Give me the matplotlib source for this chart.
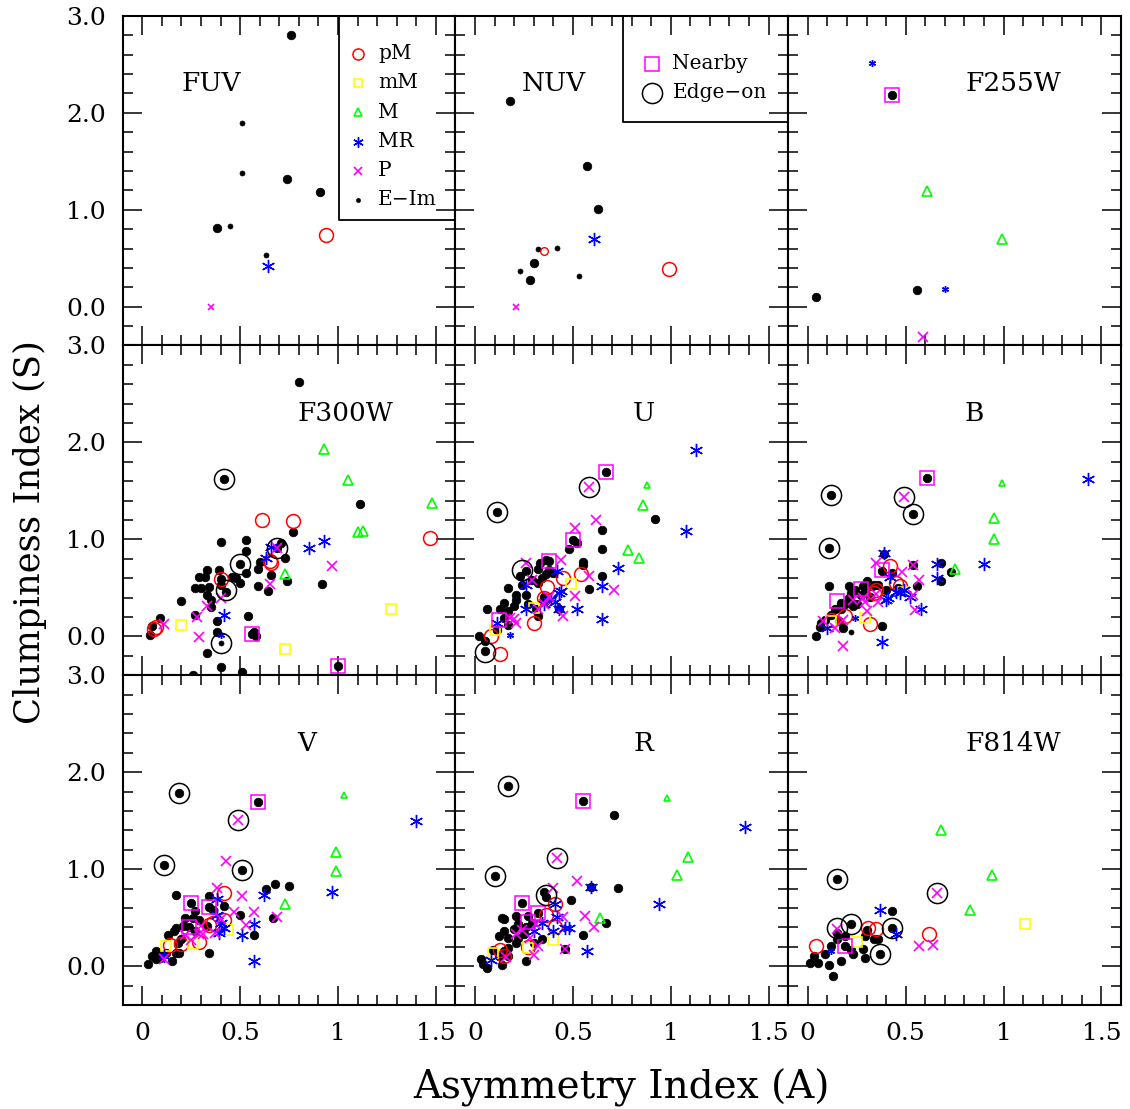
import matplotlib
matplotlib.use("Agg")
import matplotlib.pyplot as plt
from matplotlib.ticker import MultipleLocator, FuncFormatter

plt.rcParams['font.family'] = ['DejaVu Serif']

PANELS = ["FUV", "NUV", "F255W", "F300W", "U", "B", "V", "R", "F814W"]

# ---------------- data: (Asymmetry A, Clumpiness S) ----------------
FUV = {
    "EIm": [(0.76, 2.80), (0.74, 1.32), (0.91, 1.18), (0.38, 0.81)],
    "EIm_s": [(0.51, 1.89), (0.51, 1.38), (0.45, 0.83), (0.63, 0.53)],
    "pM": [(0.94, 0.74)],
    "MR": [(0.64, 0.42)],
    "P_s": [(0.35, 0.00)],
}
NUV = {
    "EIm": [(0.18, 2.12), (0.57, 1.45), (0.63, 1.01), (0.30, 0.45), (0.28, 0.28)],
    "EIm_s": [(0.32, 0.60), (0.42, 0.61), (0.23, 0.37), (0.53, 0.32)],
    "pM": [(0.99, 0.39)],
    "pM_s": [(0.35, 0.57)],
    "MR": [(0.61, 0.70)],
    "P_s": [(0.21, 0.00)],
}
F255W = {
    "EIm": [(0.43, 2.18), (0.04, 0.10), (0.56, 0.17)],
    "M": [(0.61, 1.19), (0.99, 0.70)],
    "MR_s": [(0.33, 2.51), (0.70, 0.18)],
    "P": [(0.59, -0.31)],
    "nearby": [(0.43, 2.18)],
}
F300W = {
    "EIm": [(0.80, 2.62), (1.11, 1.37), (0.77, 1.08), (0.42, 1.62), (0.69, 0.91),
            (0.71, 0.96), (0.73, 0.81), (0.40, 0.97), (0.53, 0.99), (0.53, 0.88),
            (0.50, 0.75), (0.59, 0.70), (0.60, 0.77), (0.66, 0.63), (0.64, 0.47),
            (0.59, 0.52), (0.74, 0.57), (0.92, 0.54), (0.46, 0.61), (0.48, 0.60),
            (0.50, 0.55), (0.53, 0.65), (0.33, 0.69), (0.39, 0.68), (0.29, 0.61),
            (0.32, 0.61), (0.27, 0.50), (0.30, 0.50), (0.34, 0.51), (0.33, 0.43),
            (0.35, 0.38), (0.35, 0.30), (0.20, 0.37), (0.27, 0.22), (0.38, 0.16),
            (0.38, 0.05), (0.33, -0.17), (0.40, -0.32), (0.26, -0.40), (0.51, -0.37),
            (0.54, 0.21), (0.57, 0.05), (0.58, 0.00), (0.09, 0.19), (0.04, 0.01),
            (0.05, 0.11), (0.40, 0.59), (0.40, 0.53), (0.43, 0.46), (0.56, 0.03),
            (1.00, -0.30)],
    "EIm_s": [(0.40, -0.07)],
    "pM": [(0.61, 1.20), (0.77, 1.19), (1.47, 1.01), (0.65, 0.78), (0.66, 0.76),
           (0.40, 0.59), (0.06, 0.08), (0.07, 0.10)],
    "mM": [(0.20, 0.12), (0.73, -0.13), (1.27, 0.28)],
    "M": [(0.93, 1.93), (1.05, 1.61), (1.48, 1.38), (1.10, 1.08), (1.13, 1.09),
          (0.73, 0.64)],
    "MR": [(0.93, 0.98), (0.85, 0.91), (0.66, 0.92), (0.63, 0.81), (0.42, 0.22)],
    "MR_s": [(0.40, 0.01)],
    "P": [(0.97, 0.73), (0.69, 0.91), (0.65, 0.54), (0.40, 0.40), (0.33, 0.31),
          (0.28, 0.20), (0.29, -0.01), (0.11, 0.13)],
    "nearby": [(0.56, 0.03), (1.00, -0.30)],
    "edgeon": [(0.42, 1.62), (0.69, 0.91), (0.50, 0.75), (0.43, 0.48), (0.40, -0.07)],
}
U = {
    "EIm": [(0.67, 1.70), (0.11, 1.28), (0.92, 1.21), (0.65, 1.10), (0.65, 0.90),
            (0.50, 0.99), (0.48, 0.90), (0.52, 0.96), (0.38, 0.78), (0.36, 0.79),
            (0.55, 0.77), (0.55, 0.74), (0.65, 0.62), (0.58, 0.49), (0.05, -0.15),
            (0.33, 0.76), (0.32, 0.70), (0.36, 0.64), (0.38, 0.69), (0.34, 0.60),
            (0.40, 0.65), (0.29, 0.58), (0.26, 0.67), (0.23, 0.62), (0.32, 0.55),
            (0.24, 0.53), (0.26, 0.43), (0.21, 0.43), (0.17, 0.50), (0.21, 0.38),
            (0.15, 0.34), (0.20, 0.31), (0.17, 0.26), (0.13, 0.28), (0.06, 0.28),
            (0.15, 0.19), (0.17, 0.12), (0.11, 0.07), (0.02, 0.00), (0.05, -0.05),
            (0.32, 0.21), (0.31, 0.28), (0.27, 0.33), (0.35, 0.41), (0.43, 0.28)],
    "pM": [(0.54, 0.64), (0.45, 0.60), (0.37, 0.51), (0.35, 0.40), (0.30, 0.14),
           (0.08, 0.00), (0.13, -0.18)],
    "mM": [(0.49, 0.54), (0.30, 0.29), (0.10, 0.07)],
    "M": [(0.86, 1.36), (0.78, 0.89), (0.84, 0.81)],
    "M_s": [(0.88, 1.56)],
    "MR": [(1.13, 1.92), (1.08, 1.09), (0.73, 0.71), (0.42, 0.67), (0.65, 0.52),
           (0.44, 0.47), (0.43, 0.45), (0.26, 0.53), (0.41, 0.36), (0.39, 0.39),
           (0.52, 0.28), (0.26, 0.28), (0.43, 0.28), (0.65, 0.18), (0.11, 0.14),
           (0.35, 0.33)],
    "MR_s": [(0.18, 0.02)],
    "P": [(0.58, 1.54), (0.62, 1.20), (0.51, 1.12), (0.44, 0.79), (0.26, 0.76),
          (0.58, 0.62), (0.29, 0.58), (0.71, 0.48), (0.51, 0.42), (0.38, 0.41),
          (0.35, 0.33), (0.32, 0.28), (0.45, 0.21), (0.20, 0.18), (0.21, 0.14),
          (0.18, 0.19)],
    "nearby": [(0.67, 1.70), (0.50, 0.99), (0.38, 0.78), (0.12, 0.17)],
    "edgeon": [(0.11, 1.28), (0.58, 1.54), (0.24, 0.68), (0.05, -0.16)],
}
B = {
    "EIm": [(0.61, 1.63), (0.12, 1.46), (0.54, 1.26), (0.11, 0.91), (0.39, 0.85),
            (0.73, 0.66), (0.68, 0.76), (0.68, 0.57), (0.54, 0.74), (0.56, 0.52),
            (0.38, 0.11), (0.04, 0.00), (0.11, 0.52), (0.38, 0.67), (0.30, 0.57),
            (0.28, 0.52), (0.24, 0.48), (0.22, 0.45), (0.21, 0.40), (0.19, 0.33),
            (0.17, 0.28), (0.23, 0.31), (0.25, 0.33), (0.27, 0.43), (0.32, 0.41),
            (0.33, 0.52), (0.29, 0.46), (0.34, 0.53), (0.36, 0.53), (0.21, 0.52),
            (0.22, 0.36), (0.14, 0.28), (0.12, 0.22), (0.09, 0.17), (0.07, 0.14),
            (0.06, 0.10), (0.18, 0.09), (0.16, 0.16), (0.43, 0.65), (0.46, 0.50),
            (0.40, 0.48), (0.17, 0.34)],
    "EIm_s": [(0.22, 0.05)],
    "pM": [(0.42, 0.73), (0.45, 0.55), (0.47, 0.52), (0.35, 0.48), (0.34, 0.45),
           (0.12, 0.17), (0.19, 0.21), (0.32, 0.13)],
    "mM": [(0.48, 0.46), (0.29, 0.19), (0.12, 0.16)],
    "M": [(0.95, 1.22), (0.95, 1.00), (0.75, 0.70)],
    "M_s": [(0.99, 1.58)],
    "MR": [(1.43, 1.62), (0.39, 0.86), (0.90, 0.75), (0.66, 0.75), (0.66, 0.60),
           (0.42, 0.61), (0.45, 0.46), (0.47, 0.45), (0.49, 0.48), (0.52, 0.41),
           (0.40, 0.38), (0.41, 0.40), (0.58, 0.28), (0.10, 0.09), (0.38, -0.06)],
    "MR_s": [(0.24, 0.19)],
    "P": [(0.49, 1.44), (0.35, 0.76), (0.48, 0.66), (0.54, 0.74), (0.57, 0.58),
          (0.54, 0.43), (0.55, 0.27), (0.28, 0.40), (0.29, 0.36), (0.35, 0.44),
          (0.36, 0.35), (0.23, 0.38), (0.30, 0.26), (0.08, 0.16), (0.14, 0.09),
          (0.18, 0.17), (0.18, -0.10)],
    "nearby": [(0.61, 1.63), (0.38, 0.69), (0.27, 0.49), (0.15, 0.37)],
    "edgeon": [(0.12, 1.46), (0.49, 1.44), (0.54, 1.26), (0.11, 0.91)],
}
V = {
    "EIm": [(0.19, 1.79), (0.59, 1.69), (0.11, 1.04), (0.51, 0.99), (0.68, 0.85),
            (0.75, 0.83), (0.63, 0.80), (0.67, 0.50), (0.50, 0.53), (0.57, 0.32),
            (0.34, 0.72), (0.42, 0.62), (0.25, 0.65), (0.34, 0.61), (0.17, 0.73),
            (0.24, 0.40), (0.34, 0.14), (0.03, 0.02), (0.05, 0.11), (0.07, 0.16),
            (0.09, 0.08), (0.12, 0.14), (0.15, 0.05), (0.17, 0.14), (0.19, 0.14),
            (0.13, 0.32), (0.16, 0.36), (0.17, 0.39), (0.21, 0.41), (0.22, 0.50),
            (0.26, 0.50), (0.27, 0.57), (0.29, 0.48), (0.27, 0.36), (0.20, 0.28),
            (0.18, 0.24), (0.08, 0.13), (0.07, 0.07), (0.33, 0.41), (0.36, 0.58)],
    "pM": [(0.42, 0.75), (0.42, 0.48), (0.34, 0.42), (0.29, 0.25), (0.20, 0.23),
           (0.14, 0.22), (0.36, 0.45)],
    "mM": [(0.44, 0.37), (0.26, 0.23), (0.12, 0.21)],
    "M": [(0.99, 1.18), (0.99, 0.98), (0.73, 0.64)],
    "M_s": [(1.03, 1.76)],
    "MR": [(1.40, 1.50), (0.97, 0.76), (0.62, 0.73), (0.38, 0.69), (0.38, 0.53),
           (0.42, 0.39), (0.39, 0.34), (0.57, 0.43), (0.51, 0.32), (0.57, 0.05),
           (0.11, 0.10), (0.40, 0.45)],
    "P": [(0.49, 1.51), (0.43, 1.08), (0.38, 0.81), (0.51, 0.72), (0.57, 0.56),
          (0.47, 0.56), (0.69, 0.51), (0.53, 0.42), (0.40, 0.49), (0.37, 0.34),
          (0.30, 0.41), (0.22, 0.32), (0.25, 0.27), (0.31, 0.33), (0.11, 0.07),
          (0.29, 0.33)],
    "nearby": [(0.59, 1.69), (0.25, 0.65), (0.34, 0.61), (0.24, 0.40)],
    "edgeon": [(0.19, 1.79), (0.49, 1.51), (0.11, 1.04), (0.51, 0.99)],
}
R = {
    "EIm": [(0.17, 1.86), (0.55, 1.70), (0.71, 1.56), (0.10, 0.93), (0.59, 0.82),
            (0.73, 0.81), (0.35, 0.77), (0.36, 0.71), (0.49, 0.68), (0.67, 0.45),
            (0.55, 0.32), (0.46, 0.18), (0.26, 0.05), (0.14, 0.01), (0.14, 0.50),
            (0.24, 0.65), (0.32, 0.55), (0.04, 0.02), (0.06, -0.02), (0.03, 0.07),
            (0.12, 0.10), (0.15, 0.16), (0.17, 0.19), (0.21, 0.24), (0.22, 0.29),
            (0.17, 0.29), (0.12, 0.31), (0.15, 0.36), (0.20, 0.38), (0.22, 0.43),
            (0.26, 0.40), (0.29, 0.45), (0.15, 0.49), (0.21, 0.52), (0.27, 0.52),
            (0.34, 0.28), (0.30, 0.24), (0.17, 0.10), (0.25, 0.33), (0.09, 0.17)],
    "pM": [(0.41, 0.64), (0.36, 0.53), (0.41, 0.40), (0.27, 0.20), (0.13, 0.17),
           (0.15, 0.11)],
    "mM": [(0.40, 0.27), (0.27, 0.19), (0.09, 0.14)],
    "M": [(1.09, 1.13), (1.03, 0.94), (0.64, 0.50)],
    "M_s": [(0.98, 1.73)],
    "MR": [(1.38, 1.44), (0.94, 0.64), (0.59, 0.82), (0.41, 0.64), (0.42, 0.51),
           (0.46, 0.39), (0.48, 0.39), (0.40, 0.36), (0.34, 0.45), (0.30, 0.36),
           (0.57, 0.16), (0.08, 0.06)],
    "P": [(0.42, 1.12), (0.52, 0.88), (0.40, 0.81), (0.56, 0.52), (0.45, 0.51),
          (0.61, 0.40), (0.46, 0.18), (0.32, 0.21), (0.30, 0.12), (0.24, 0.37),
          (0.28, 0.29), (0.31, 0.44), (0.16, 0.09), (0.21, 0.33)],
    "nearby": [(0.55, 1.70), (0.24, 0.65), (0.32, 0.55), (0.27, 0.46)],
    "edgeon": [(0.17, 1.86), (0.42, 1.12), (0.10, 0.93), (0.36, 0.73)],
}
F814W = {
    "EIm": [(0.15, 0.90), (0.43, 0.57), (0.22, 0.44), (0.43, 0.39), (0.37, 0.13),
            (0.19, 0.21), (0.30, 0.37), (0.34, 0.28), (0.36, 0.28), (0.12, 0.21),
            (0.15, 0.28), (0.19, 0.31), (0.29, 0.31), (0.28, 0.18), (0.23, 0.13),
            (0.17, 0.05), (0.11, 0.01), (0.13, -0.10), (0.05, 0.03), (0.01, 0.03),
            (0.09, 0.13), (0.03, 0.10), (0.29, 0.08), (0.22, 0.17), (0.15, 0.34)],
    "pM": [(0.31, 0.39), (0.35, 0.38), (0.62, 0.33), (0.04, 0.21)],
    "mM": [(1.11, 0.44), (0.25, 0.25)],
    "M": [(0.68, 1.40), (0.94, 0.94), (0.83, 0.58)],
    "MR": [(0.37, 0.58), (0.45, 0.33)],
    "MR_s": [(0.12, 0.16)],
    "P": [(0.66, 0.75), (0.15, 0.38), (0.64, 0.22), (0.57, 0.21)],
    "nearby": [(0.19, 0.21)],
    "edgeon": [(0.15, 0.90), (0.66, 0.75), (0.22, 0.44), (0.43, 0.39), (0.15, 0.39),
               (0.37, 0.13)],
}

PANEL_DATA = [FUV, NUV, F255W, F300W, U, B, V, R, F814W]
LABEL_POS = [(0.35, 2.30), (0.40, 2.30), (1.05, 2.30),
             (1.04, 2.30), (0.86, 2.30), (0.85, 2.30),
             (0.84, 2.30), (0.86, 2.30), (1.05, 2.30)]

# ---------------- styles ----------------
AST = (6, 2, 0)
STYLE = {
    "EIm":   dict(marker="o", ms=6.2, mfc="black", mec="black", mew=0.5),
    "EIm_s": dict(marker="o", ms=3.6, mfc="black", mec="black", mew=0.5),
    "pM":    dict(marker="o", ms=10, mfc="none", mec="#ff0000", mew=1.1),
    "pM_s":  dict(marker="o", ms=5.5, mfc="none", mec="#ff0000", mew=1.0),
    "mM":    dict(marker="s", ms=6.5, mfc="none", mec="#ffff00", mew=1.2),
    "M":     dict(marker="^", ms=7.5, mfc="none", mec="#00ff00", mew=1.2),
    "M_s":   dict(marker="^", ms=4, mfc="none", mec="#00ff00", mew=1.2),
    "MR":    dict(marker=AST, ms=9.5, mfc="#0000ff", mec="#0000ff", mew=1.0),
    "MR_s":  dict(marker=AST, ms=5, mfc="#0000ff", mec="#0000ff", mew=1.0),
    "P":     dict(marker="x", ms=6.5, mfc="#ff00ff", mec="#ff00ff", mew=1.2),
    "P_s":   dict(marker="x", ms=3.8, mfc="#ff00ff", mec="#ff00ff", mew=1.2),
    "nearby": dict(marker="s", ms=9.5, mfc="none", mec="#ff00ff", mew=1.1),
    "edgeon": dict(marker="o", ms=14.5, mfc="none", mec="black", mew=1.1),
}
ORDER = ["EIm", "EIm_s", "pM", "pM_s", "mM", "M", "M_s", "MR", "MR_s", "P", "P_s",
         "nearby", "edgeon"]

fig = plt.figure(figsize=(11.3, 11.09), dpi=100)
gs = fig.add_gridspec(3, 3, left=0.1086, right=0.992, top=0.9858, bottom=0.0938,
                      wspace=0, hspace=0)

for i, (name, data) in enumerate(zip(PANELS, PANEL_DATA)):
    r, c = divmod(i, 3)
    ax = fig.add_subplot(gs[r, c])
    ax.set_xlim(-0.1, 1.6)
    ax.set_ylim(-0.4, 3.0)
    for key in ORDER:
        if key in data:
            xs = [p[0] for p in data[key]]
            ys = [p[1] for p in data[key]]
            ax.plot(xs, ys, linestyle="none", clip_on=False, zorder=3, **STYLE[key])
    lx, ly = LABEL_POS[i]
    ax.text(lx, ly, name, fontsize=19, ha="center", va="center")

    ax.xaxis.set_major_locator(MultipleLocator(0.5))
    ax.xaxis.set_minor_locator(MultipleLocator(0.1))
    ax.yaxis.set_major_locator(MultipleLocator(1.0))
    ax.yaxis.set_minor_locator(MultipleLocator(0.2))
    ax.xaxis.set_major_formatter(FuncFormatter(lambda v, p: f"{v:g}"))
    ax.yaxis.set_major_formatter(FuncFormatter(lambda v, p: f"{v:.1f}"))
    ax.tick_params(which="both", direction="in", top=True, right=True,
                   labelleft=(c == 0), labelbottom=(r == 2), labelsize=18)
    ax.tick_params(which="major", length=14, width=1.1, pad=12)
    ax.tick_params(which="minor", length=7, width=1.1)
    for s in ax.spines.values():
        s.set_linewidth(1.5)

    if i == 0:
        ax.plot([0.649, 0.649, 1.0], [1.0, 0.382, 0.382], color="black", lw=1.3,
                transform=ax.transAxes, clip_on=False)
        leg = [("pM", "pM"), ("mM", "mM"), ("M", "M"), ("MR", "MR"), ("P", "P"),
               ("EIm_s", "E\u2212Im")]
        ys_leg = [0.885, 0.797, 0.707, 0.618, 0.530, 0.442]
        for (key, lab), yy in zip(leg, ys_leg):
            st = dict(STYLE[key])
            st["ms"] = st["ms"] * 0.8
            ax.plot([0.706], [yy], transform=ax.transAxes, linestyle="none", **st)
            ax.text(0.768, yy, lab, transform=ax.transAxes, fontsize=14.5, va="center")
    if i == 1:
        ax.plot([0.5025, 0.5025, 1.0], [1.0, 0.678, 0.678], color="black", lw=1.3,
                transform=ax.transAxes, clip_on=False)
        ax.plot([0.590], [0.855], transform=ax.transAxes, linestyle="none",
                **STYLE["nearby"])
        ax.plot([0.590], [0.766], transform=ax.transAxes, linestyle="none",
                **STYLE["edgeon"])
        ax.text(0.652, 0.855, "Nearby", transform=ax.transAxes, fontsize=14.5,
                va="center")
        ax.text(0.652, 0.766, "Edge\u2212on", transform=ax.transAxes, fontsize=14.5,
                va="center")

fig.text(0.5496, 0.019, "Asymmetry Index (A)", fontsize=28, ha="center", va="center")
fig.text(0.0265, 0.520, "Clumpiness Index (S)", fontsize=25.5, ha="center",
         va="center", rotation=90)

fig.savefig("out.png", dpi=100)
